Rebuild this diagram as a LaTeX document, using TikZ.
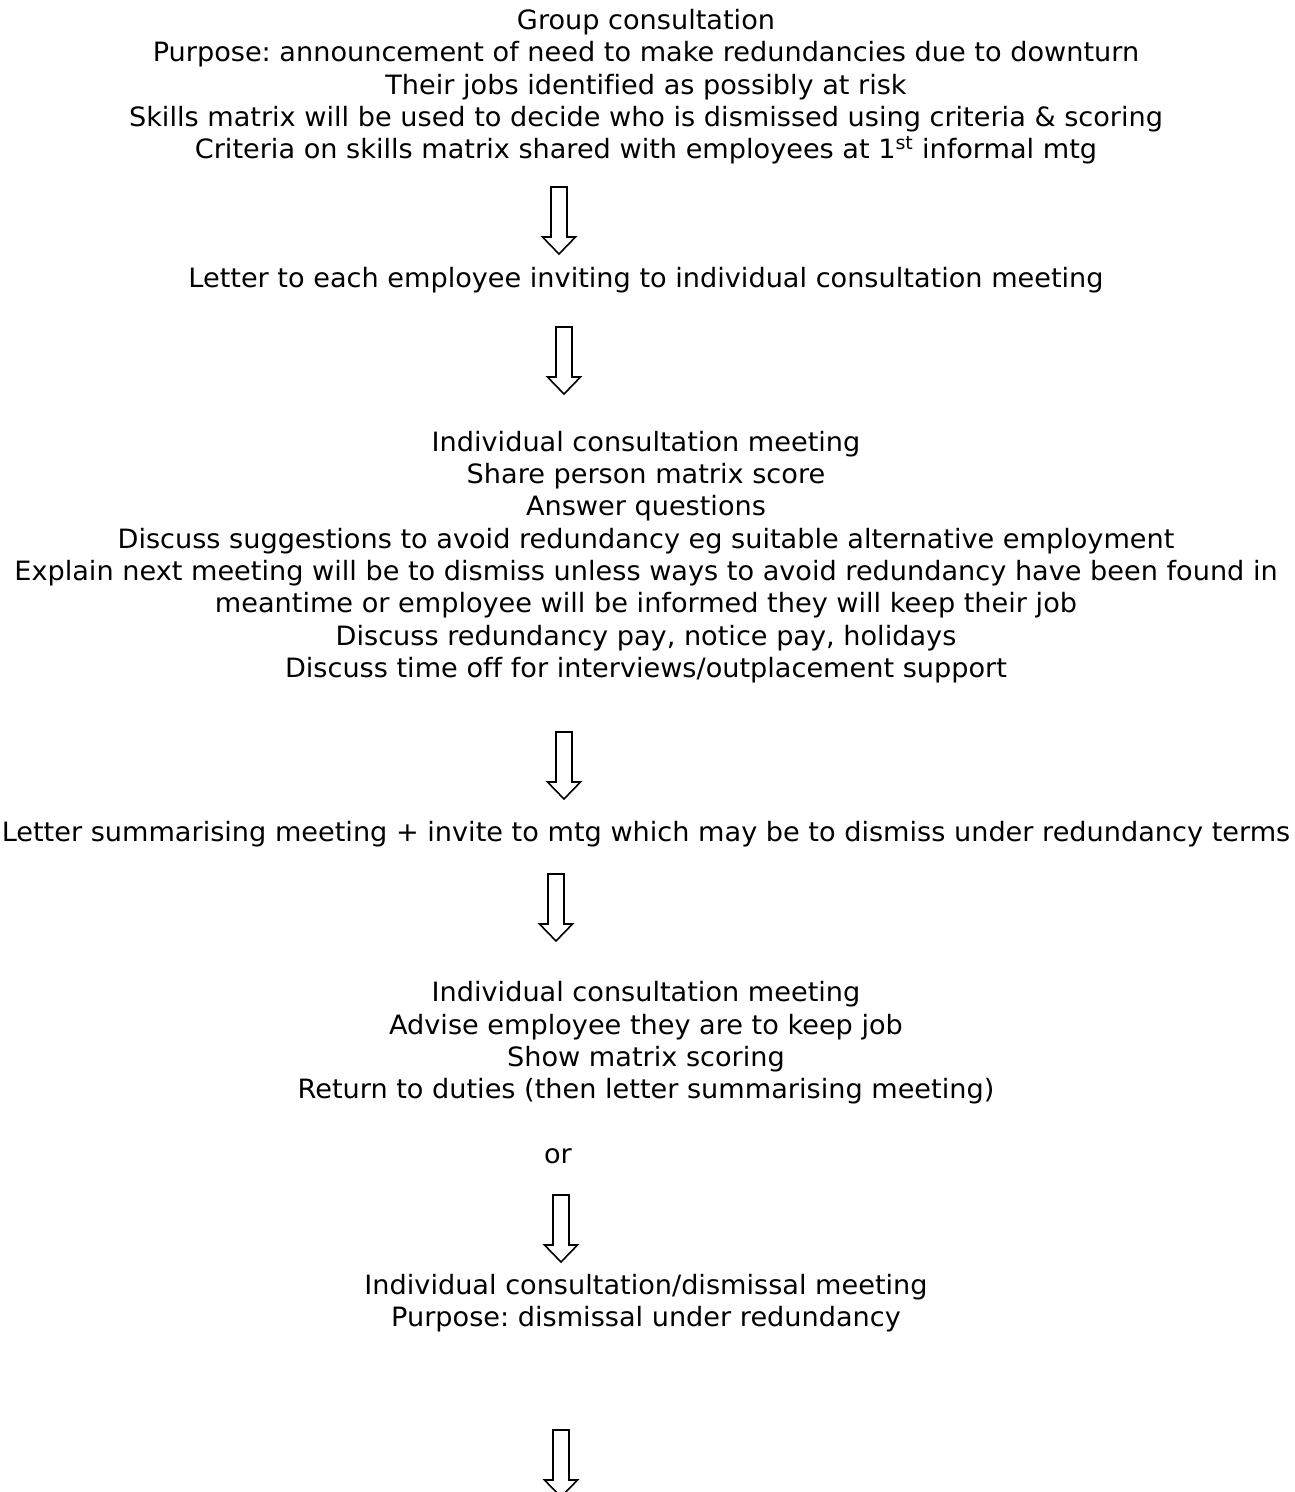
\documentclass[tikz,border=0pt]{standalone}
\usepackage{fontspec}
\setmainfont[FakeStretch=1.02, Ligatures=NoCommon]{DejaVu Sans}
\frenchspacing
\newcommand{\flowarrow}[1]{\draw[hollow] (#1) ++(-8,0) -- ++(16,0) -- ++(0,50) -- ++(8.5,0) -- ++(-16.5,17) -- ++(-16.5,-17) -- ++(8.5,0) -- cycle;}

\begin{document}
\begin{tikzpicture}[x=1pt, y=-1pt,
        every node/.style={align=center, inner sep=0pt, font=\fontsize{26.6}{32.3}\selectfont},
        hollow/.style={draw, fill=white, line width=1.6pt, line join=miter}]
        \useasboundingbox (0,0) rectangle (1294,1492);

        \draw (646,9.1) node[anchor=north] (group) {Group consultation\\
            Purpose: announcement of need to make redundancies due to downturn\\
            Their jobs identified as possibly at risk\\
            Skills matrix will be used to decide who is dismissed using criteria \& scoring\\
            Criteria on skills matrix shared with employees at 1\textsuperscript{st} informal mtg};
		\coordinate (a1) at (559,187);
		\flowarrow{a1}

        \draw (646,266.8) node[anchor=north] (invite) {Letter to each employee inviting to individual consultation meeting};
		\coordinate (a2) at (564,327);
		\flowarrow{a2}

        \draw (646,430.8) node[anchor=north] (meeting) {Individual consultation meeting\\
            Share person matrix score\\
            Answer questions\\
            Discuss suggestions to avoid redundancy eg suitable alternative employment\\
            Explain next meeting will be to dismiss unless ways to avoid redundancy have been found in\\
            meantime or employee will be informed they will keep their job\\
            Discuss redundancy pay, notice pay, holidays\\
            Discuss time off for interviews/outplacement support};
		\coordinate (a3) at (564,732);
		\flowarrow{a3}

        \draw (646,820.8) node[anchor=north] (summary) {Letter summarising meeting + invite to mtg which may be to dismiss under redundancy terms};
		\coordinate (a4) at (556,874);
		\flowarrow{a4}

        \draw (646,981.3) node[anchor=north] (keep) {Individual consultation meeting\\
            Advise employee they are to keep job\\
            Show matrix scoring\\
            Return to duties (then letter summarising meeting)};

        \draw (558,1163) node[anchor=base] (or) {or};
		\coordinate (a5) at (561,1195);
		\flowarrow{a5}

        \draw (646,1273.8) node[anchor=north] (dismiss) {Individual consultation/dismissal meeting\\
            Purpose: dismissal under redundancy};
		\coordinate (a6) at (561,1430);
		\flowarrow{a6}
    \end{tikzpicture}
\end{document}
